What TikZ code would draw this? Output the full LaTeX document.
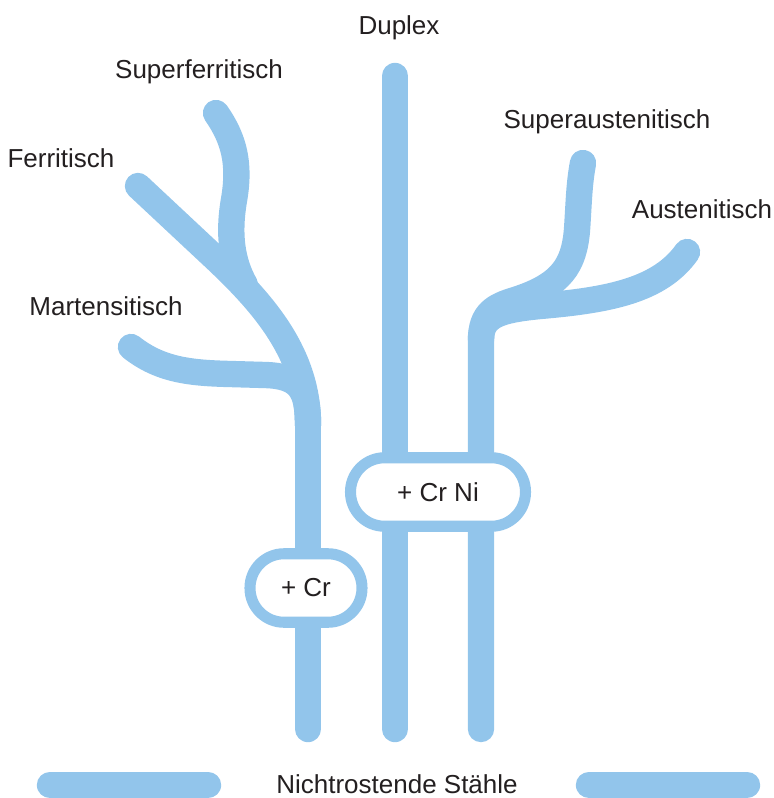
\documentclass[tikz,border=0pt]{standalone}
\usepackage{fontspec}
\setmainfont{Liberation Sans}
\usetikzlibrary{backgrounds}
\definecolor{branchblue}{RGB}{146,197,235}
\definecolor{inkgray}{RGB}{35,31,32}

\begin{document}
\begin{tikzpicture}[
        % 全局樣式設定:以像素為單位,y 軸向下
        x=0.02cm, y=-0.02cm,
        % 分支線樣式:淺藍粗線、圓頭
        branch/.style={
            draw=branchblue,
            line width=15pt,
            line cap=round
        },
        % 合金元素方框樣式
        addbox/.style={
            draw=branchblue,
            fill=white,        % 白色填充,蓋住下面的線
            line width=6.3pt,
            rounded corners=0.68cm,
            minimum height=1.37cm,
            inner sep=0pt,
            font=\fontsize{14.8}{17}\selectfont,
            text=inkgray
        },
        % 文字標籤樣式
        label_text/.style={
            font=\fontsize{14.8}{17}\selectfont,
            text=inkgray,
            inner sep=0pt,
            anchor=base
        }
    ]

    \useasboundingbox (0,0) rectangle (774,798);

    % --- 端點座標 ---
    \coordinate (sferr) at (216,113);
    \coordinate (ferr)  at (138,186);
    \coordinate (mart)  at (131,347);
    \coordinate (ljoin) at (308,425);
    \coordinate (lend)  at (308,729);
    \coordinate (dtop)  at (395,76);
    \coordinate (dend)  at (395,729);
    \coordinate (rjoin) at (481,340);
    \coordinate (rend)  at (481,729);
    \coordinate (saust) at (583,163);
    \coordinate (aust)  at (687,252);
    \coordinate (bl1)   at (50,785);
    \coordinate (bl2)   at (208,785);
    \coordinate (br1)   at (589,785);
    \coordinate (br2)   at (747,785);

    % --- 方框 ---
    \node[addbox, minimum width=2.24cm] (cr) at (306,588) {+ Cr};
    \node[addbox, minimum width=3.5cm] (crni) at (438,492) {+ Cr Ni};

    % --- 標籤 ---
    \node[label_text] (duplex) at (399,34) {Duplex};
    \node[label_text] (superferr) at (199,78) {Superferritisch};
    \node[label_text] (ferritisch) at (61,167) {Ferritisch};
    \node[label_text] (martens) at (106,315) {Martensitisch};
    \node[label_text] (superaust) at (607,128) {Superaustenitisch};
    \node[label_text] (austen) at (702,218) {Austenitisch};
    \node[label_text] (base) at (397,793) {Nichtrostende Stähle};

    \begin{pgfonlayer}{background}
        % --- 左半邊 (鐵素體/馬氏體) ---
        \draw[branch] (sferr) .. controls (235,140) and (240,165) .. (234,200)
            .. controls (228,235) and (232,262) .. (245,285);
        \draw[branch] (ferr) -- (215,258) .. controls (265,305) and (308,355) .. (ljoin);
        \draw[branch] (mart) .. controls (160,370) and (190,373) .. (230,374)
            -- (265,375) .. controls (300,376) and (308,390) .. (ljoin);
        \draw[branch] (ljoin) -- (lend);
        % --- 中間 (雙相) ---
        \draw[branch] (dtop) -- (dend);
        % --- 右半邊 (奧氏體) ---
        \draw[branch] (rend) -- (rjoin) .. controls (481,313) and (495,306) .. (515,300)
            .. controls (562,285) and (574,265) .. (577,230)
            .. controls (579,200) and (579,185) .. (saust);
        \draw[branch] (rjoin) .. controls (481,315) and (500,310) .. (540,306)
            .. controls (610,300) and (660,290) .. (aust);
        % --- 底部橫條 ---
        \draw[branch] (bl1) -- (bl2);
        \draw[branch] (br1) -- (br2);
    \end{pgfonlayer}
\end{tikzpicture}
\end{document}
